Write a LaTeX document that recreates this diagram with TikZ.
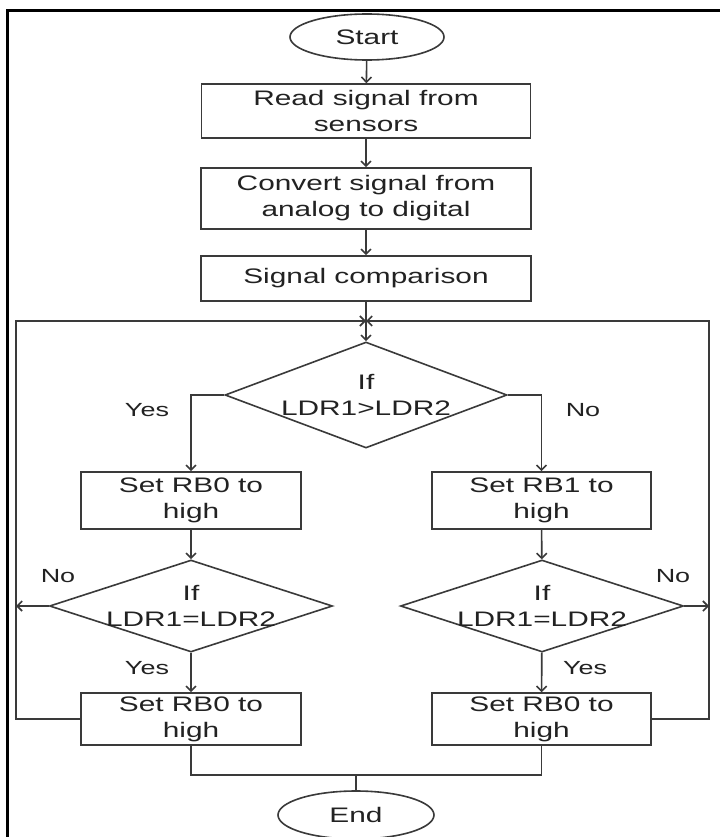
\documentclass[tikz,border=0pt]{standalone}
\usepackage{fontspec}
\setmainfont{Liberation Sans}[FakeStretch=1.42]
\usetikzlibrary{shapes.geometric,arrows.meta}
\definecolor{ln}{HTML}{3A3A3A}
\definecolor{tx}{HTML}{222222}
\begin{document}
\begin{tikzpicture}[x=1pt,y=-1pt,
  every node/.style={font=\fontsize{21}{26}\selectfont, text=tx},
  proc/.style={draw=ln, line width=1.6pt, rectangle, inner sep=0pt, align=center},
  term/.style={draw=ln, line width=1.6pt, ellipse, inner sep=0pt},
  dec/.style={draw=ln, line width=1.6pt, diamond, inner sep=0pt},
  conn/.style={draw=ln, line width=1.6pt},
  arr/.style={conn, -{Straight Barb[length=5pt,width=10pt]}},
  lbl/.style={inner sep=0pt, font=\fontsize{19}{23}\selectfont}]
\useasboundingbox (0,0) rectangle (720,837);
\fill[white] (0,0) rectangle (720,837);
\draw[line width=3pt, black] (7,837) -- (7,11) -- (720,11);

\node[term, minimum width=154pt, minimum height=46pt] (start) at (367,37) {Start};
\node[proc, minimum width=329pt, minimum height=54pt] (b1) at (366,111) {Read signal from\\sensors};
\node[proc, minimum width=330pt, minimum height=61pt] (b2) at (366,198.5) {Convert signal from\\analog to digital};
\node[proc, minimum width=330pt, minimum height=45pt] (b3) at (366,278.5) {Signal comparison};
\node[dec, minimum width=282pt, minimum height=106pt,
  label={[align=center,inner sep=0pt]center:If\\LDR1>LDR2}] (d1) at (366,395) {};
\node[proc, minimum width=220pt, minimum height=57pt] (b4) at (191,500.5) {Set RB0 to\\high};
\node[proc, minimum width=219pt, minimum height=57pt] (b5) at (541.5,500.5) {Set RB1 to\\high};
\node[dec, minimum width=283pt, minimum height=92pt,
  label={[align=center,inner sep=0pt]center:If\\LDR1=LDR2}] (d2) at (191,606) {};
\node[dec, minimum width=283pt, minimum height=92pt,
  label={[align=center,inner sep=0pt]center:If\\LDR1=LDR2}] (d3) at (542,606) {};
\node[proc, minimum width=220pt, minimum height=52pt] (b6) at (191,719) {Set RB0 to\\high};
\node[proc, minimum width=219pt, minimum height=52pt] (b7) at (541.5,719) {Set RB0 to\\high};
\node[term, minimum width=156pt, minimum height=48pt] (end) at (356,815) {End};

\coordinate (J) at (366,321);
\coordinate (M) at (356,775);
\coordinate (L1) at (16,719);
\coordinate (L2) at (16,606);
\coordinate (R1) at (709,719);
\coordinate (R2) at (709,606);

\draw[arr] (start) -- (b1);
\draw[arr] (b1) -- (b2);
\draw[arr] (b2) -- (b3);
\draw[arr] (b3) -- (d1);
\draw[arr] (d1.west) -| (b4.north);
\draw[arr] (d1.east) -| (b5.north);
\draw[arr] (b4) -- (d2);
\draw[arr] (b5) -- (d3);
\draw[arr] (d2) -- (b6);
\draw[arr] (d3) -- (b7);
\draw[arr] (d2.west) -- (L2);
\draw[arr] (d3.east) -- (R2);
\draw[arr] (b6.west) -- (L1) |- (J);
\draw[arr] (b7.east) -- (R1) |- (J);
\draw[conn] (b6.south) |- (M) -| (b7.south);
\draw[conn] (M) -- (end.north);

\node[lbl] (y1) at (147,410) {Yes};
\node[lbl] (n1) at (583,410) {No};
\node[lbl] (n2) at (58,576) {No};
\node[lbl] (n3) at (673,576) {No};
\node[lbl] (y2) at (147,668) {Yes};
\node[lbl] (y3) at (585,668) {Yes};
\end{tikzpicture}
\end{document}
